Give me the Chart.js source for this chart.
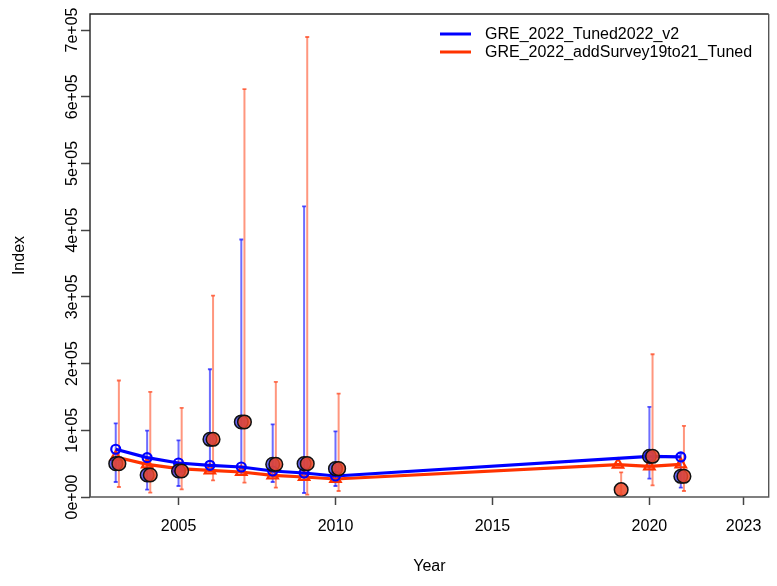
<!DOCTYPE html>
<html><head><meta charset="utf-8">
<script src="https://cdn.jsdelivr.net/npm/chart.js@4.4.1/dist/chart.umd.min.js"></script>
<style>html,body{margin:0;padding:0;background:#fff}canvas{display:block}</style>
</head><body>
<canvas id="c" width="777" height="586"></canvas>
<script>
// ---- data ----
const xTickValues = [2005, 2010, 2015, 2020, 2023];
const yTickValues = [0, 100000, 200000, 300000, 400000, 500000, 600000, 700000];

const seriesNames = ["GRE_2022_Tuned2022_v2", "GRE_2022_addSurvey19to21_Tuned"];

// model 1 (blue)
const blueYears = [2003, 2004, 2005, 2006, 2007, 2008, 2009, 2010, 2020, 2021];
const blueExpected = [71600, 59000, 51000, 47500, 45000, 39000, 36000, 31500, 61000, 60000];
const blueObserved = [50000, 33000, 39000, 86500, 112500, 49000, 50000, 42500, 61000, 31000];
const blueLower = [22500, 11000, 16500, 39000, 32800, 22500, 6000, 16500, 27600, 14000];
const blueUpper = [110500, 99600, 85000, 191500, 386000, 109000, 435600, 98500, 135000, 65000];

// model 2 (red)
const redYears = [2003, 2004, 2005, 2006, 2007, 2008, 2009, 2010, 2019, 2020, 2021];
const redExpected = [60000, 49000, 42500, 40000, 37500, 32500, 30000, 27000, 48600, 46000, 49000];
const redObserved = [50000, 33000, 39000, 86500, 112500, 49000, 50000, 42500, 11000, 61000, 31000];
const redLower = [15000, 6600, 11500, 24800, 21600, 14000, 3600, 9000, 3300, 17500, 9000];
const redUpper = [174600, 157500, 133500, 302000, 611500, 172500, 689500, 155000, 37000, 214000, 106500];

const redShift = 0.1; // horizontal offset of the second model's observations

// ---- styles ----
const BLUE = '#0000ff';
const RED = '#ff3300';
const FONT = "'Liberation Sans', Arial, Helvetica, sans-serif";
Chart.defaults.font.family = FONT;
Chart.defaults.font.size = 16;
Chart.defaults.color = '#000';

function pts(years, vals, dx) { return years.map((y, i) => ({x: y + dx, y: vals[i]})); }
function errData(years, lo, hi, dx) {
  const out = [];
  years.forEach((y, i) => {
    out.push({x: y + dx, y: lo[i]}, {x: y + dx, y: hi[i]}, {x: y + dx, y: null});
  });
  return out;
}
function yLabel(v) { return v === 0 ? '0e+00' : Math.round(v / 1e5) + 'e+05'; }

const boxPlugin = {
  id: 'box',
  afterDatasetsDraw(chart) {
    const {ctx, chartArea: a} = chart;
    ctx.save();
    ctx.lineWidth = 1.4;
    ctx.strokeStyle = '#222';
    ctx.beginPath();
    ctx.moveTo(a.left, a.bottom); ctx.lineTo(a.left, a.top); ctx.lineTo(a.right, a.top);
    ctx.stroke();
    ctx.strokeStyle = '#555';
    ctx.beginPath();
    ctx.moveTo(a.right, a.top); ctx.lineTo(a.right, a.bottom); ctx.lineTo(a.left, a.bottom);
    ctx.stroke();
    ctx.restore();
  }
};

// y tick labels, rotated like R's las=0, placed from the library's own y scale ticks
const yLabelPlugin = {
  id: 'ylabels',
  afterDraw(chart) {
    const {ctx} = chart;
    const s = chart.scales.y;
    ctx.save();
    ctx.font = '16px ' + FONT;
    ctx.fillStyle = '#000';
    ctx.textAlign = 'center';
    ctx.textBaseline = 'middle';
    s.ticks.forEach(t => {
      const py = s.getPixelForValue(t.value);
      ctx.save();
      ctx.translate(72, py);
      ctx.rotate(-Math.PI / 2);
      ctx.fillText(yLabel(t.value), 0, 1);
      ctx.restore();
    });
    ctx.restore();
  }
};

const legendPlugin = {
  id: 'rlegend',
  afterDraw(chart) {
    const {ctx} = chart;
    const items = [[seriesNames[0], BLUE], [seriesNames[1], RED]];
    ctx.save();
    ctx.font = '16px ' + FONT;
    ctx.textBaseline = 'middle';
    ctx.fillStyle = '#000';
    items.forEach((it, i) => {
      const y = 34 + i * 18;
      ctx.strokeStyle = it[1];
      ctx.lineWidth = 3;
      ctx.beginPath(); ctx.moveTo(440, y); ctx.lineTo(471, y); ctx.stroke();
      ctx.fillText(it[0], 485, y + 1);
    });
    ctx.restore();
  }
};

new Chart(document.getElementById('c'), {
  type: 'line',
  data: {
    datasets: [
      { label: 'blueErr', data: errData(blueYears, blueLower, blueUpper, 0),
        borderColor: 'rgba(30,30,255,0.65)', borderWidth: 2, pointStyle: 'line',
        pointRadius: 2, pointBorderWidth: 1.8, pointBorderColor: 'rgba(30,30,255,0.75)',
        spanGaps: false, order: 6 },
      { label: 'redErr', data: errData(redYears, redLower, redUpper, redShift),
        borderColor: 'rgba(255,80,40,0.6)', borderWidth: 2, pointStyle: 'line',
        pointRadius: 2, pointBorderWidth: 1.8, pointBorderColor: 'rgba(255,70,30,0.75)',
        spanGaps: false, order: 5 },
      { label: seriesNames[1], data: pts(redYears, redExpected, 0),
        borderColor: RED, borderWidth: 3.2, pointStyle: 'triangle', pointRadius: 6,
        pointBorderWidth: 2.2, pointBorderColor: RED, pointBackgroundColor: 'rgba(0,0,0,0)', order: 4 },
      { label: seriesNames[0], data: pts(blueYears, blueExpected, 0),
        borderColor: BLUE, borderWidth: 3.2, pointStyle: 'circle', pointRadius: 4.5,
        pointBorderWidth: 2.2, pointBorderColor: BLUE, pointBackgroundColor: 'rgba(0,0,0,0)', order: 3 },
      { label: 'blueObs', data: pts(blueYears, blueObserved, 0), showLine: false,
        pointStyle: 'circle', pointRadius: 6.8, pointBorderWidth: 1.5,
        pointBorderColor: '#111', pointBackgroundColor: 'rgba(40,40,235,0.72)', order: 2 },
      { label: 'redObs', data: pts(redYears, redObserved, redShift), showLine: false,
        pointStyle: 'circle', pointRadius: 6.8, pointBorderWidth: 1.5,
        pointBorderColor: '#111', pointBackgroundColor: 'rgba(238,72,40,0.85)', order: 1 }
    ]
  },
  options: {
    responsive: false,
    animation: false,
    events: [],
    layout: { padding: { top: 14, right: 3, left: 0, bottom: 0 } },
    plugins: { legend: { display: false }, tooltip: { enabled: false } },
    scales: {
      x: {
        type: 'linear', min: 2002.18, max: 2023.8,
        afterBuildTicks: s => { s.ticks = xTickValues.map(v => ({value: v})); },
        afterFit: s => { s.height = 89; },
        ticks: { autoSkip: false, maxRotation: 0, minRotation: 0, padding: 12,
                 callback: v => String(v), color: '#000' },
        grid: { drawOnChartArea: false, drawTicks: true, tickLength: 8, tickColor: '#444', tickWidth: 1.5 },
        border: { display: false },
        title: { display: true, text: 'Year', padding: { top: 0, bottom: 10 } }
      },
      y: {
        type: 'linear', min: 0, max: 724000,
        afterBuildTicks: s => { s.ticks = yTickValues.map(v => ({value: v})); },
        afterFit: s => { s.width = 90; },
        ticks: { display: false, autoSkip: false, callback: v => yLabel(v) },
        grid: { drawOnChartArea: false, drawTicks: true, tickLength: 9, tickColor: '#444', tickWidth: 1.5 },
        border: { display: false },
        title: { display: true, text: 'Index', padding: { top: 10, bottom: 0 } }
      }
    }
  },
  plugins: [boxPlugin, yLabelPlugin, legendPlugin]
});
</script>
</body></html>
